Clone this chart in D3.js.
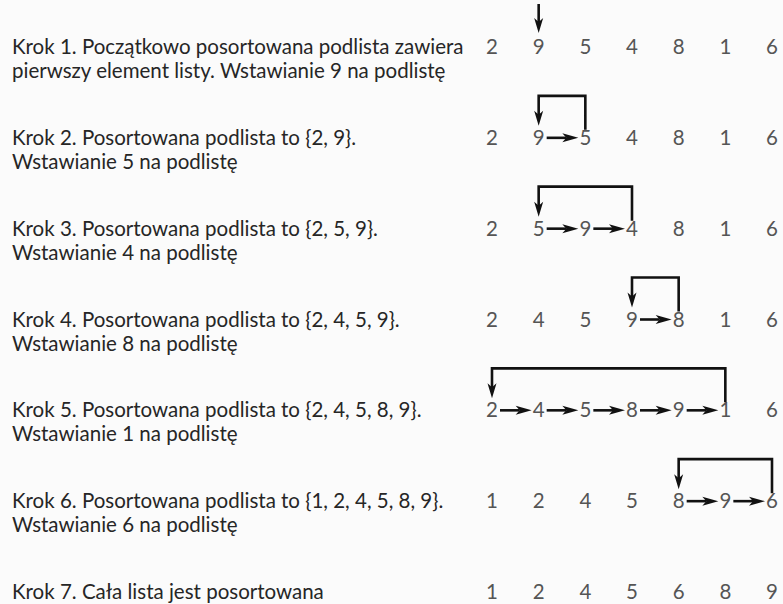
<!DOCTYPE html>
<html>
<head>
<meta charset="utf-8">
<script src="https://cdn.jsdelivr.net/npm/d3@7"></script>
<style>
  html, body { margin: 0; padding: 0; background: #fbfbfb; }
  svg { display: block; }
</style>
</head>
<body>
<svg id="chart" width="783" height="604"></svg>
<script>
// ---- data ----
const stepTexts = [
  ["Krok 1. Początkowo posortowana podlista zawiera", "pierwszy element listy. Wstawianie 9 na podlistę"],
  ["Krok 2. Posortowana podlista to {2, 9}.", "Wstawianie 5 na podlistę"],
  ["Krok 3. Posortowana podlista to {2, 5, 9}.", "Wstawianie 4 na podlistę"],
  ["Krok 4. Posortowana podlista to {2, 4, 5, 9}.", "Wstawianie 8 na podlistę"],
  ["Krok 5. Posortowana podlista to {2, 4, 5, 8, 9}.", "Wstawianie 1 na podlistę"],
  ["Krok 6. Posortowana podlista to {1, 2, 4, 5, 8, 9}.", "Wstawianie 6 na podlistę"],
  ["Krok 7. Cała lista jest posortowana"]
];
const rowValues = [
  [2, 9, 5, 4, 8, 1, 6],
  [2, 9, 5, 4, 8, 1, 6],
  [2, 5, 9, 4, 8, 1, 6],
  [2, 4, 5, 9, 8, 1, 6],
  [2, 4, 5, 8, 9, 1, 6],
  [1, 2, 4, 5, 8, 9, 6],
  [1, 2, 4, 5, 6, 8, 9]
];
// index of element being inserted (bracket source), null = none
const moveFrom = [null, 2, 3, 4, 5, 6, null];
// index where it is inserted (bracket target / pointer)
const moveTo   = [1, 1, 1, 3, 0, 4, null];

// ---- layout ----
const svg = d3.select("#chart");
const W = 783, H = 604;
svg.append("rect").attr("width", W).attr("height", H).attr("fill", "#fbfbfb");

const x = d3.scalePoint().domain(d3.range(7)).range([492, 772]);
const y = d3.scalePoint().domain(d3.range(7)).range([47, 592]);

const FONT = "Lato, 'Open Sans', sans-serif";
const FS = 20.5;
const baseOff = 7;  // baseline offset from row centre
const lineGap = 24;

// step description text
const g = svg.append("g");
stepTexts.forEach((lines, r) => {
  const t = g.append("text")
    .attr("x", 12)
    .attr("y", y(r) + baseOff)
    .attr("font-family", FONT)
    .attr("font-size", FS)
    .attr("fill", "#262626");
  lines.forEach((ln, i) => {
    t.append("tspan").attr("x", 12).attr("dy", i === 0 ? 0 : lineGap).text(ln);
  });
});

// numbers
rowValues.forEach((vals, r) => {
  g.selectAll(null).data(vals).enter().append("text")
    .attr("x", (d, i) => x(i))
    .attr("y", y(r) + baseOff)
    .attr("text-anchor", "middle")
    .attr("font-family", FONT)
    .attr("font-size", FS)
    .attr("fill", "#555")
    .text(d => d);
});

// arrows
const ink = "#111";
const SW = 2.6;
const arrows = svg.append("g");

function downHead(cx, tipY) {
  const L = 15, hw = 4.5;
  arrows.append("path")
    .attr("d", `M${cx},${tipY} L${cx - hw},${tipY - L} L${cx},${tipY - L + 4} L${cx + hw},${tipY - L} Z`)
    .attr("fill", ink);
}
function rightArrow(x1, x2, yy) {
  const L = 16, hw = 4.5;
  arrows.append("line")
    .attr("x1", x1).attr("x2", x2 - L + 4)
    .attr("y1", yy).attr("y2", yy)
    .attr("stroke", ink).attr("stroke-width", SW);
  arrows.append("path")
    .attr("d", `M${x2},${yy} L${x2 - L},${yy - hw} L${x2 - L + 4},${yy} L${x2 - L},${yy + hw} Z`)
    .attr("fill", ink);
}

rowValues.forEach((vals, r) => {
  const cy = y(r);
  const to = moveTo[r], from = moveFrom[r];
  if (to === null) return;
  if (from === null) {
    // simple pointer arrow
    arrows.append("line")
      .attr("x1", x(to)).attr("x2", x(to))
      .attr("y1", cy - 43).attr("y2", cy - 24)
      .attr("stroke", ink).attr("stroke-width", SW);
    downHead(x(to), cy - 14);
    return;
  }
  // bracket
  const top = cy - 42;
  arrows.append("path")
    .attr("d", `M${x(from)},${cy - 8} V${top} H${x(to)} V${cy - 22}`)
    .attr("fill", "none")
    .attr("stroke", ink).attr("stroke-width", SW)
    .attr("stroke-linejoin", "miter");
  downHead(x(to), cy - 12);
  // chain arrows
  for (let i = to; i < from; i++) {
    rightArrow(x(i) + 8, x(i + 1) - 7, cy);
  }
});
</script>
</body>
</html>
